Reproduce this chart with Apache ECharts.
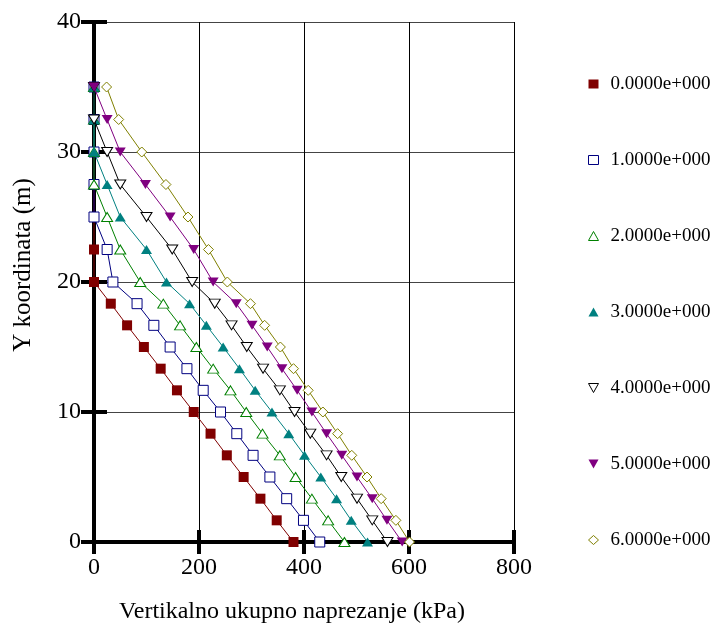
<!DOCTYPE html>
<html>
<head>
<meta charset="utf-8">
<script src="https://cdn.jsdelivr.net/npm/echarts@6/dist/echarts.min.js"></script>
<style>
html,body{margin:0;padding:0;background:#fff;}
#chart{width:714px;height:630px;}
</style>
</head>
<body>
<div id="chart"></div>
<script>
// Depth coordinates (m), shared by all series
const yCoords = [0, 1.667, 3.333, 5, 6.667, 8.333, 10, 11.667, 13.333, 15, 16.667, 18.333, 20, 22.5, 25, 27.5, 30, 32.5, 35];

const seriesNames = ['0.0000e+000', '1.0000e+000', '2.0000e+000', '3.0000e+000', '4.0000e+000', '5.0000e+000', '6.0000e+000'];

// Vertical total stress (kPa) at each yCoord
const stage0 = [380, 348, 317, 285, 253, 222, 190, 158, 127, 95, 63, 32, 0, 0, 0, 0, 0, 0, 0];
const stage1 = [430, 399, 367, 335, 303, 272, 241, 208, 177, 145, 114, 82, 36, 25, 0, 0, 0, 0, 0];
const stage2 = [477, 446, 415, 384, 354, 321, 290, 260, 227, 195, 164, 132, 88, 50, 25, 0, 0, 0, 0];
const stage3 = [521, 490, 462, 432, 401, 371, 339, 307, 277, 246, 214, 182, 138, 100, 50, 25, 0, 0, 0];
const stage4 = [559, 530, 501, 471, 443, 412, 382, 354, 322, 291, 262, 230, 187, 149, 100, 50, 25, 0, 0];
const stage5 = [587, 558, 530, 501, 472, 443, 415, 387, 358, 330, 301, 271, 227, 190, 145, 98, 50, 25, 0];
const stage6 = [601, 575, 547, 520, 491, 464, 436, 408, 380, 355, 325, 298, 254, 218, 179, 137, 91, 47, 24];

const stages = [stage0, stage1, stage2, stage3, stage4, stage5, stage6];

const xMin = 0, xMax = 800, xStep = 200;
const yMin = 0, yMax = 40, yStep = 10;

const colors = ['#800000', '#000080', '#008000', '#008080', '#000000', '#800080', '#808000'];
const downTri = 'path://M0,0L10,0L5,9Z';
const symbols = [
  { symbol: 'rect', size: 10, hollow: false },
  { symbol: 'rect', size: 10, hollow: true },
  { symbol: 'triangle', size: [11, 9], hollow: true },
  { symbol: 'triangle', size: [11, 9], hollow: false },
  { symbol: downTri, size: [11, 9], hollow: true },
  { symbol: downTri, size: [11, 9], hollow: false },
  { symbol: 'diamond', size: [10, 10], hollow: true }
];
const legendIcons = ['rect', 'rect', 'triangle', 'triangle', downTri, downTri, 'diamond'];

const FONT = "'Liberation Serif', 'Times New Roman', serif";

const series = stages.map((vals, i) => ({
  name: seriesNames[i],
  type: 'line',
  xAxisIndex: 0,
  yAxisIndex: 0,
  data: vals.map((v, j) => [v, yCoords[j]]),
  symbol: symbols[i].symbol,
  symbolSize: symbols[i].size,
  symbolKeepAspect: false,
  clip: false,
  z: 3 + i,
  lineStyle: { color: colors[i], width: 1 },
  itemStyle: symbols[i].hollow
    ? { color: '#fff', borderColor: colors[i], borderWidth: 1 }
    : { color: colors[i], borderColor: colors[i], borderWidth: 0 },
  emphasis: { disabled: true },
  animation: false
}));

const legendData = seriesNames.map((n, i) => ({
  name: n,
  icon: legendIcons[i],
  itemStyle: symbols[i].hollow
    ? { color: '#fff', borderColor: colors[i], borderWidth: 1 }
    : { color: colors[i], borderColor: colors[i], borderWidth: 0 }
}));

const tickStyle = { color: '#000', width: 4 };

const option = {
  backgroundColor: '#fff',
  animation: false,
  grid: { left: 94, top: 22, right: 200, bottom: 88, containLabel: false },
  legend: {
    orient: 'vertical',
    left: 583,
    top: 69,
    itemWidth: 10,
    itemHeight: 9,
    itemGap: 56,
    data: legendData,
    textStyle: { fontFamily: FONT, fontSize: 19, color: '#000', lineHeight: 20, padding: [0, 0, 0, 7] },
    selectedMode: false
  },
  xAxis: [
    {
      type: 'value', min: xMin, max: xMax, interval: xStep, position: 'bottom',
      name: 'Vertikalno ukupno naprezanje (kPa)',
      nameLocation: 'middle', nameGap: 58,
      nameTextStyle: { fontFamily: FONT, fontSize: 24, color: '#000', padding: [0, 24, 0, 0] },
      axisLine: { show: true, onZero: false, lineStyle: { color: '#000', width: 4 } },
      axisTick: { show: true, inside: false, length: 12, lineStyle: tickStyle },
      axisLabel: { fontFamily: FONT, fontSize: 24, color: '#000', margin: 14 },
      splitLine: { show: true, lineStyle: { color: '#000', width: 1 } }
    },
    {
      type: 'value', min: xMin, max: xMax, interval: xStep, position: 'bottom',
      axisLine: { show: false, onZero: false },
      axisTick: { show: true, inside: true, length: 12, lineStyle: tickStyle },
      axisLabel: { show: false },
      splitLine: { show: false }
    }
  ],
  yAxis: [
    {
      type: 'value', min: yMin, max: yMax, interval: yStep, position: 'left',
      name: 'Y koordinata (m)',
      nameLocation: 'middle', nameGap: 58,
      nameTextStyle: { fontFamily: FONT, fontSize: 25, color: '#000', padding: [0, 0, 0, 34] },
      axisLine: { show: true, onZero: false, lineStyle: { color: '#000', width: 4 } },
      axisTick: { show: true, inside: false, length: 13, lineStyle: tickStyle },
      axisLabel: { fontFamily: FONT, fontSize: 24, color: '#000', margin: 13 },
      splitLine: { show: true, lineStyle: { color: '#444', width: 1 } }
    },
    {
      type: 'value', min: yMin, max: yMax, interval: yStep, position: 'left',
      axisLine: { show: false, onZero: false },
      axisTick: { show: true, inside: true, length: 13, lineStyle: tickStyle },
      axisLabel: { show: false },
      splitLine: { show: false }
    }
  ],
  series: series
};

const chart = echarts.init(document.getElementById('chart'), null, { renderer: 'canvas' });
chart.setOption(option);
</script>
</body>
</html>
